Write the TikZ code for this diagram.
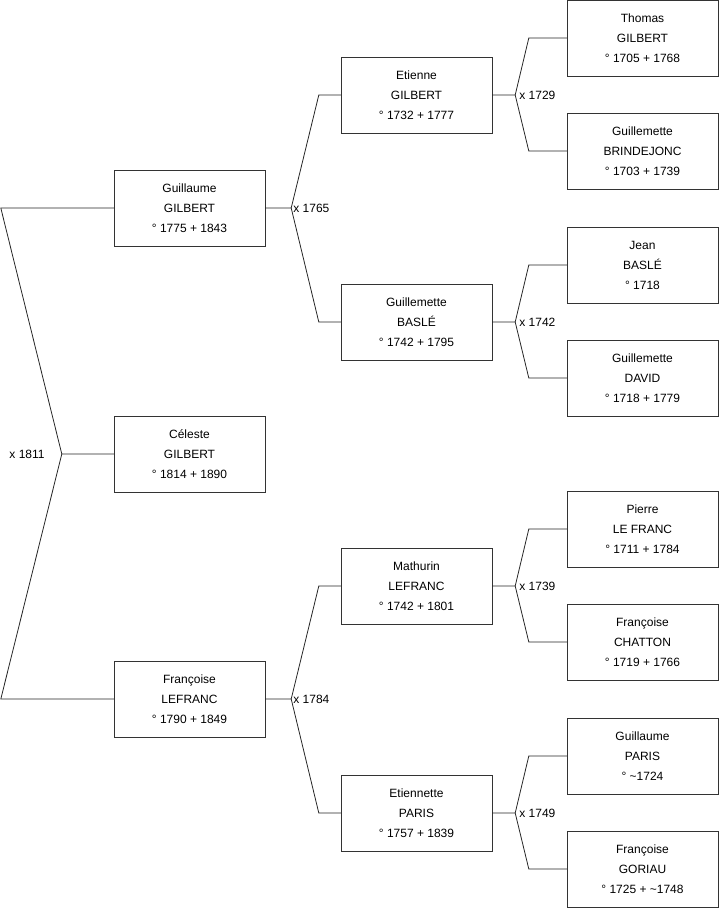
\documentclass[tikz,border=0pt]{standalone}
\usepackage{fontspec}
\setmainfont{Liberation Sans}
\usetikzlibrary{positioning}

\begin{document}
\begin{tikzpicture}[x=1pt, y=-1pt,
    personne/.style={draw=black!80, fill=white, inner sep=0pt,
        minimum width=151pt, minimum height=76pt,
        font=\fontsize{12}{20}\selectfont, align=center},
    union/.style={font=\fontsize{12}{14}\selectfont, inner sep=0pt},
    lien/.style={draw=black!85, line width=0.8pt}]
  \useasboundingbox (0,0) rectangle (719,908);

  % generation 1
  \node[personne] (celeste) at (189.5,454) {C\'eleste\\GILBERT\\\textdegree{} 1814 + 1890};
  \node[personne] (p1) at (189.5,208) {Guillaume\\GILBERT\\\textdegree{} 1775 + 1843};
  \node[personne] (p2) at (189.5,699) {Fran\c{c}oise\\LEFRANC\\\textdegree{} 1790 + 1849};

  % generation 2
  \node[personne] (s1) at (416.5,95) {Etienne\\GILBERT\\\textdegree{} 1732 + 1777};
  \node[personne] (s2) at (416.5,322) {Guillemette\\BASL\'E\\\textdegree{} 1742 + 1795};
  \node[personne] (s3) at (416.5,586) {Mathurin\\LEFRANC\\\textdegree{} 1742 + 1801};
  \node[personne] (s4) at (416.5,813) {Etiennette\\PARIS\\\textdegree{} 1757 + 1839};

  % generation 3
  \node[personne] (t1) at (642.5,38) {Thomas\\GILBERT\\\textdegree{} 1705 + 1768};
  \node[personne] (t2) at (642.5,151) {Guillemette\\BRINDEJONC\\\textdegree{} 1703 + 1739};
  \node[personne] (t3) at (642.5,265) {Jean\\BASL\'E\\\textdegree{} 1718};
  \node[personne] (t4) at (642.5,378) {Guillemette\\DAVID\\\textdegree{} 1718 + 1779};
  \node[personne] (t5) at (642.5,529) {Pierre\\LE FRANC\\\textdegree{} 1711 + 1784};
  \node[personne] (t6) at (642.5,642) {Fran\c{c}oise\\CHATTON\\\textdegree{} 1719 + 1766};
  \node[personne] (t7) at (642.5,756) {Guillaume\\PARIS\\\textdegree{} \textasciitilde 1724};
  \node[personne] (t8) at (642.5,869) {Fran\c{c}oise\\GORIAU\\\textdegree{} 1725 + \textasciitilde 1748};

  % mariage des parents
  \coordinate (u0) at ([xshift=-52pt]celeste.west);
  \draw[lien] (celeste.west) -- (u0) -- ([xshift=-113pt]p1.west) -- (p1.west);
  \draw[lien] (u0) -- ([xshift=-113pt]p2.west) -- (p2.west);
  \node[union, anchor=east] at ([xshift=-17pt]u0) {x 1811};

  % grands-parents
  \foreach \e/\p/\m/\an in {p1/s1/s2/1765, p2/s3/s4/1784}{
    \coordinate (u\e) at ([xshift=26pt]\e.east);
    \draw[lien] (\e.east) -- (u\e) -- ([xshift=-22pt]\p.west) -- (\p.west);
    \draw[lien] (u\e) -- ([xshift=-22pt]\m.west) -- (\m.west);
    \node[union, right=2pt] at (u\e) {x \an};
  }

  % arriere-grands-parents
  \foreach \e/\p/\m/\an in {s1/t1/t2/1729, s2/t3/t4/1742, s3/t5/t6/1739, s4/t7/t8/1749}{
    \coordinate (u\e) at ([xshift=23pt]\e.east);
    \draw[lien] (\e.east) -- (u\e) -- ([xshift=-38pt]\p.west) -- (\p.west);
    \draw[lien] (u\e) -- ([xshift=-38pt]\m.west) -- (\m.west);
    \node[union, right=4pt] at (u\e) {x \an};
  }
\end{tikzpicture}
\end{document}
